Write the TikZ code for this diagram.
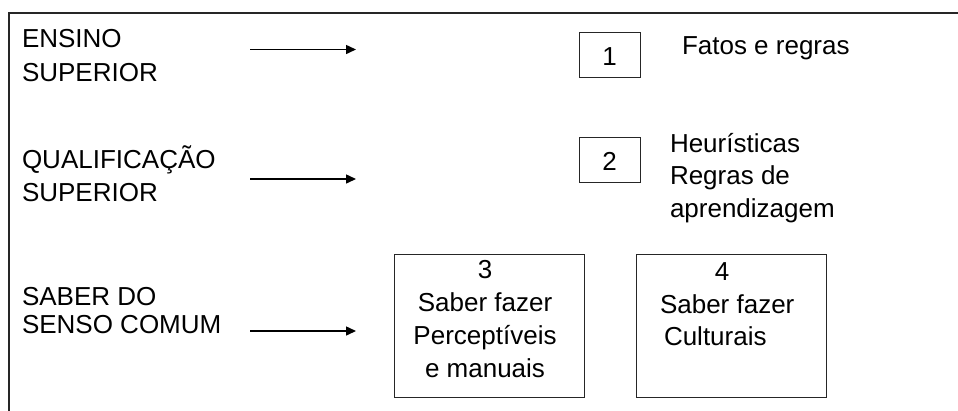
\documentclass[tikz,border=0pt]{standalone}
\usepackage{fontspec}
\setmainfont{Liberation Sans}
\usetikzlibrary{arrows.meta}
\begin{document}
\begin{tikzpicture}[x=1pt,y=-1pt,
  txt/.style={font=\fontsize{26}{33}\selectfont, inner sep=0pt, outer sep=0pt},
  numbox/.style={draw=black!85, line width=1pt, minimum width=61pt, minimum height=45pt, inner sep=0pt},
  bigbox/.style={draw=black!85, line width=1pt, minimum width=190pt, minimum height=143pt, inner sep=0pt},
  arr/.style={line width=1.5pt, -{Triangle[length=10pt,width=9pt]}},
  frame/.style={line width=1.2pt, draw=black!85}
]
\useasboundingbox (0,0) rectangle (958,410);
% frame
\coordinate (fbl) at (9,411);
\coordinate (ftl) at (9,13);
\coordinate (ftr) at (959,13);
\draw[frame] (fbl) -- (ftl) -- (ftr);

% left labels (anchor = baseline of last line)
\node[txt, font=\fontsize{26}{34}\selectfont, anchor=base west, align=left] (l1) at (22,81) {ENSINO\\SUPERIOR};
\node[txt, anchor=base west, align=left] (l2) at (22,201) {QUALIFICAÇÃO\\SUPERIOR};
\node[txt, font=\fontsize{26}{28}\selectfont, anchor=base west, align=left] (l3) at (22,333) {SABER DO\\SENSO COMUM};

% arrows
\coordinate (a1s) at (250,49.5);
\coordinate (a1e) at (356,49.5);
\coordinate (a2s) at (250,179);
\coordinate (a2e) at (356,179);
\coordinate (a3s) at (250,331);
\coordinate (a3e) at (356,331);
\draw[arr] (a1s) -- (a1e);
\draw[arr] (a2s) -- (a2e);
\draw[arr] (a3s) -- (a3e);

% numbered small boxes
\node[numbox] (b1) at (609.5,54.5) {};
\node[txt, anchor=base] (n1) at (609.5,65) {1};
\node[numbox] (b2) at (609.5,159.5) {};
\node[txt, anchor=base] (n2) at (609.5,170) {2};

% right texts
\node[txt, anchor=base west] (r1) at (682,54) {Fatos e regras};
\node[txt, font=\fontsize{26}{32.5}\selectfont, anchor=base west, align=left] (r2) at (670,217) {Heurísticas\\Regras de\\aprendizagem};

% big boxes
\node[bigbox] (b3) at (489,325.5) {};
\node[txt, font=\fontsize{26}{32.7}\selectfont, anchor=base, align=center] (t3) at (485,377) {3\\Saber fazer\\Perceptíveis\\e manuais};
\node[bigbox] (b4) at (731,325.5) {};
\node[txt, anchor=base] (n4) at (722,280) {4};
\node[txt, font=\fontsize{26}{32}\selectfont, anchor=base west, align=left] (t4) at (660,345) {Saber fazer\\\hspace*{4pt}Culturais};
\end{tikzpicture}
\end{document}
